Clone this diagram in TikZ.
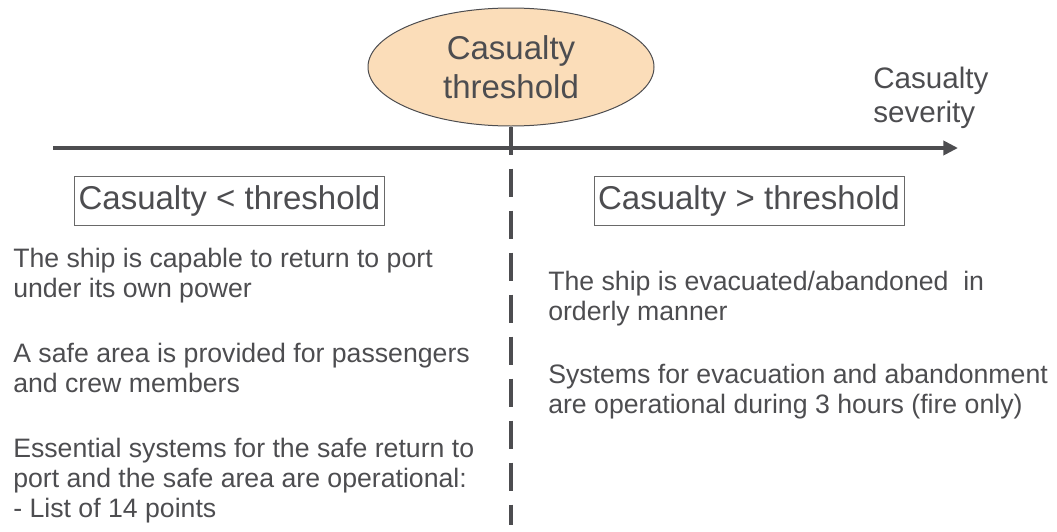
\documentclass[tikz,border=0pt]{standalone}
\usepackage{fontspec}
\setmainfont{Liberation Sans}
\usepackage{tikz}
\usetikzlibrary{positioning, arrows.meta, shapes.geometric}

\definecolor{inkgray}{RGB}{77,77,80}
\definecolor{framegray}{RGB}{105,105,105}
\definecolor{peach}{RGB}{251,221,185}

\begin{document}
\begin{tikzpicture}[x=0.75pt, y=-0.75pt, >=Stealth,
  every node/.style={text=inkgray},
  bigtext/.style={font=\fontsize{24.75pt}{29.25pt}\selectfont},
  bodytext/.style={font=\fontsize{20pt}{22.5pt}\selectfont, align=left,
    anchor=north west, inner sep=0pt},
  casebox/.style={bigtext, draw=framegray, line width=0.75pt, inner sep=2pt,
    minimum width=232.5pt, minimum height=36.75pt}]

% --- Frame (1057 x 532 px) ---
\useasboundingbox (0, 0) rectangle (1057, 532);

% --- Threshold ellipse ---
\node[bigtext, ellipse, draw=inkgray, line width=0.75pt, fill=peach,
  align=center, inner sep=0pt, minimum width=214.5pt, minimum height=88.5pt]
  (thr) at (511, 67) {Casualty\\threshold};

% --- Severity axis ---
\coordinate (axstart) at (53, 148);
\coordinate (axend) at (958, 148);
\draw[-{Triangle[length=11pt, width=10.5pt]}, line width=3pt, inkgray]
  (axstart) -- (axend);
\node[font=\fontsize{22.2pt}{25.5pt}\selectfont, align=left,
  anchor=north west, inner sep=0pt] (sev) at (873, 67)
  {Casualty\\severity};

% --- Dashed split line ---
\coordinate (splitend) at (511, 525);
\draw[inkgray, line width=2.5pt, dash pattern=on 21pt off 10.5pt]
  (thr.south) -- (splitend);

% --- Case headers ---
\node[casebox] (below) at (229.5, 200.5) {Casualty < threshold};
\node[casebox] (above) at (749, 200.5) {Casualty > threshold};

% --- Left column: casualty below threshold ---
\node[bodytext] (retport) at (13, 248)
  {The ship is capable to return to port\\under its own power};
\node[bodytext] (safearea) at (13, 343)
  {A safe area is provided for passengers\\and crew members};
\node[bodytext] (systems) at (13, 438)
  {Essential systems for the safe return to\\
   port and the safe area are operational:\\
   - List of 14 points};

% --- Right column: casualty above threshold ---
\node[bodytext] (evac) at (548, 271)
  {The ship is evacuated/abandoned~ in\\orderly manner};
\node[bodytext] (evacsys) at (548, 364)
  {Systems for evacuation and abandonment\\
   are operational during 3 hours (fire only)};

\end{tikzpicture}
\end{document}
